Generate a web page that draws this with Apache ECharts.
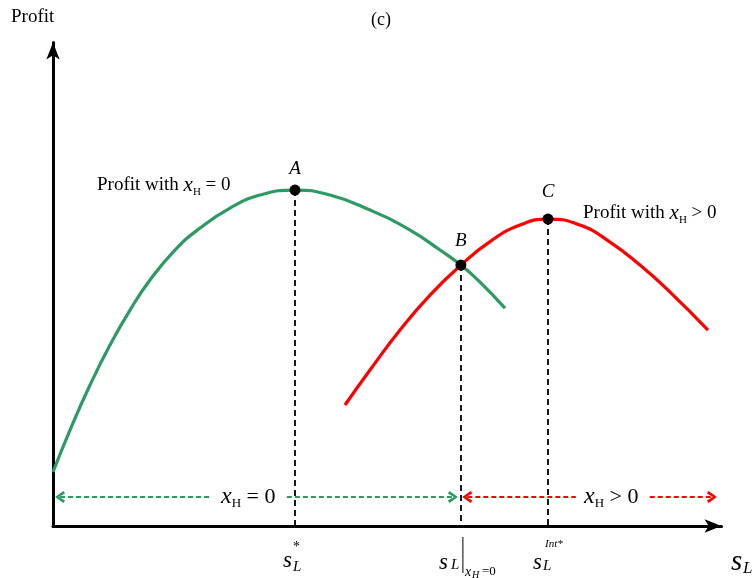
<!DOCTYPE html>
<html><head><meta charset="utf-8">
<script src="https://cdn.jsdelivr.net/npm/echarts@6/dist/echarts.min.js"></script>
<style>html,body{margin:0;padding:0;background:#fff}#c{width:755px;height:578px}</style>
</head><body><div id="c"></div>
<script>
// ---- data (abstract units: x 0..100, y 0..100) ----
const greenX=[0,2.53,5.51,8.48,11.46,14.43,18.15,21.88,26.34,30.80,36.01,41.22,47.17,53.13,57.59,60.7,63.54,67.26];
const greenY=[11.07,19.67,28.89,37.09,44.26,50.41,56.56,61.07,65.16,67.83,68.85,67.83,64.75,60.66,56.56,53.48,50.0,44.67];
const redX=[43.45,47.17,51.64,56.10,60.7,65.03,69.49,73.66,78.42,82.89,87.35,91.82,97.47];
const redY=[24.80,31.97,40.16,47.34,53.48,58.30,61.68,62.91,61.68,58.20,53.48,47.95,40.16];
const ptNames=['A','B','C'];
const ptX=[36.01,60.7,73.66];
const ptY=[68.85,53.48,62.91];
const regionY=5.94;
const greenRegion=[[1.05,23.4],[34.8,59.5]];
const redRegion=[[61.65,77.8],[88.8,98.05]];

const SERIF='"Liberation Serif","DejaVu Serif",serif';
const GREEN='#2e9a63', RED='#ff0000';
const pairs=(xs,ys)=>xs.map((x,i)=>[x,ys[i]]);
const CHEVRON='path://M5,0 L10,8 L8,9.6 L5,3.8 L2,9.6 L0,8 Z';

const chart=echarts.init(document.getElementById('c'),null,{renderer:'canvas'});
const axisCommon={type:'value',min:0,splitLine:{show:false},axisTick:{show:false},axisLabel:{show:false},
  axisLine:{show:true,onZero:false,lineStyle:{color:'#000',width:3},symbol:['none','arrow'],symbolSize:[10,17]}};
const lift=[6,9,12];
const segs=(reg)=>reg.map((s,i)=>[
  {coord:[s[0],regionY],symbol:i===0?CHEVRON:'none'},
  {coord:[s[1],regionY],symbol:i===0?'none':CHEVRON}]);

chart.setOption({
  animation:false,
  grid:{left:53,right:33.5,top:42.5,bottom:52},
  xAxis:Object.assign({},axisCommon,{max:99.48}),
  yAxis:Object.assign({},axisCommon,{max:99.1}),
  series:[
    {type:'line',data:pairs(greenX,greenY),smooth:0.5,symbol:'none',lineStyle:{color:GREEN,width:3.2},z:3},
    {type:'line',data:pairs(redX,redY),smooth:0.5,symbol:'none',lineStyle:{color:RED,width:3.2},z:3},
    {type:'line',data:[],markLine:{silent:true,symbol:['none','none'],label:{show:false},
      lineStyle:{color:'#000',width:1.8,type:[6,4]},
      data:ptX.map((x,i)=>[{coord:[x,ptY[i]]},{coord:[x,0]}])}},
    {type:'line',data:[],markLine:{silent:true,symbolSize:[12,10],label:{show:false},
      lineStyle:{color:GREEN,width:2,type:[5,3]},data:segs(greenRegion)}},
    {type:'line',data:[],markLine:{silent:true,symbolSize:[12,10],label:{show:false},
      lineStyle:{color:RED,width:2,type:[5,3]},data:segs(redRegion)}},
    {type:'scatter',symbolSize:11,itemStyle:{color:'#000',opacity:1},z:5,
      data:ptX.map((x,i)=>({value:[x,ptY[i]],name:ptNames[i],label:{distance:lift[i]}})),
      label:{show:true,position:'top',formatter:p=>p.name,fontFamily:SERIF,fontStyle:'italic',fontSize:19,color:'#000'}}
  ]
});

// ---- text annotations ----
const P=(x,y)=>chart.convertToPixel({gridIndex:0},[x,y]);
const txt=(text,x,y,size,italic,align)=>({type:'text',x:x,y:y,silent:true,style:{text:text,fontFamily:SERIF,fontSize:size,fontStyle:italic?'italic':'normal',fill:'#000',textAlign:align||'left',textVerticalAlign:'middle'}});
const richT=(text,x,y,base)=>({type:'text',x:x,y:y,silent:true,style:{text:text,textAlign:'left',textVerticalAlign:'middle',fill:'#000',
  rich:{t:{fontFamily:SERIF,fontSize:base,lineHeight:26,verticalAlign:'middle'},
        x:{fontFamily:SERIF,fontSize:base+2,fontStyle:'italic',lineHeight:26,verticalAlign:'middle'},
        h:{fontFamily:SERIF,fontSize:Math.round(base*0.58),lineHeight:12,verticalAlign:'bottom'}}}});
const ax=P(ptX[0],0)[0], bx=P(ptX[1],0)[0], cx=P(ptX[2],0)[0];
const g=[
  txt('Profit',11,17,19,false),
  txt('(c)',381,20,18,false,'center'),
  richT('{t|Profit with }{x|x}{h|H}{t| = 0}',97,185,19),
  richT('{t|Profit with }{x|x}{h|H}{t| > 0}',583,213,19),
  richT('{x|x}{h|H}{t| = 0}',221,497,22),
  richT('{x|x}{h|H}{t| > 0}',584,497,22),
  // s_L^*
  txt('s',ax-12,561,23,true), txt('L',ax-2,567,15,true), txt('*',ax-2,547,14,false),
  // s_L |_{x_H=0}
  txt('s',bx-22,563,23,true), txt('L',bx-10,565,15,true),
  {type:'line',silent:true,shape:{x1:bx+2,y1:537,x2:bx+2,y2:573},style:{stroke:'#000',lineWidth:1}},
  txt('x',bx+4,572,14,true), txt('H',bx+11,575,10,true), txt('=0',bx+21,572,13,false),
  // s_L^{Int*}
  txt('s',cx-15,563,23,true), txt('L',cx-5,566,15,true), txt('Int*',cx-3,544,11,true),
  // s_L axis title
  txt('s',731,562,29,true), txt('L',743,569,17,true)
];
chart.setOption({graphic:g});
</script></body></html>
